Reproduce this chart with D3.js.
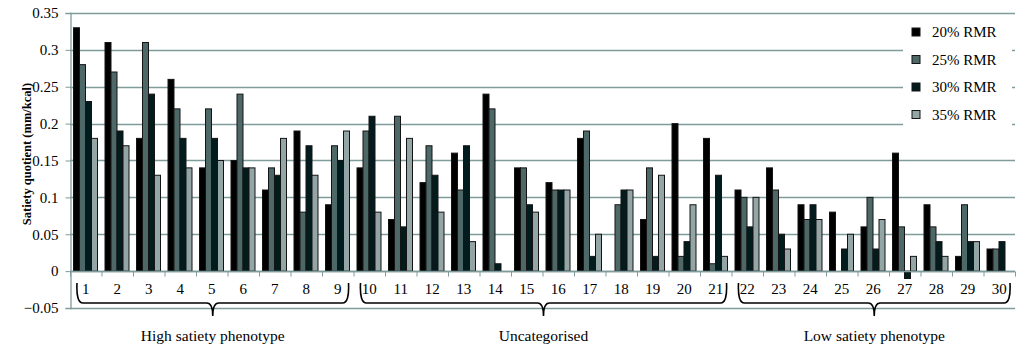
<!DOCTYPE html>
<html>
<head>
<meta charset="utf-8">
<script src="https://cdn.jsdelivr.net/npm/d3@7"></script>
<style>
  body { margin: 0; background: #fff; }
  svg text { font-family: "Times New Roman", "Liberation Serif", Times, serif; }
</style>
</head>
<body>
<svg width="1024" height="348"></svg>
<script>
// Subjects and series
var subjects = d3.range(1, 31).map(String);
var seriesNames = ["20% RMR", "25% RMR", "30% RMR", "35% RMR"];
var seriesColors = ["#000000", "#4e6868", "#021b1d", "#93a5a5"];

// Satiety quotient per subject (mm/kcal), one array per load
var rmr20 = [0.33, 0.31, 0.18, 0.26, 0.14, 0.15, 0.11, 0.19, 0.09, 0.14, 0.07, 0.12, 0.16, 0.24, 0.14,
             0.12, 0.18, 0, 0.07, 0.20, 0.18, 0.11, 0.14, 0.09, 0.08, 0.06, 0.16, 0.09, 0.02, 0.03];
var rmr25 = [0.28, 0.27, 0.31, 0.22, 0.22, 0.24, 0.14, 0.08, 0.17, 0.19, 0.21, 0.17, 0.11, 0.22, 0.14,
             0.11, 0.19, 0.09, 0.14, 0.02, 0.01, 0.10, 0.11, 0.07, 0, 0.10, 0.06, 0.06, 0.09, 0.03];
var rmr30 = [0.23, 0.19, 0.24, 0.18, 0.18, 0.14, 0.13, 0.17, 0.15, 0.21, 0.06, 0.13, 0.17, 0.01, 0.09,
             0.11, 0.02, 0.11, 0.02, 0.04, 0.13, 0.06, 0.05, 0.09, 0.03, 0.03, -0.01, 0.04, 0.04, 0.04];
var rmr35 = [0.18, 0.17, 0.13, 0.14, 0.15, 0.14, 0.18, 0.13, 0.19, 0.08, 0.18, 0.08, 0.04, 0, 0.08,
             0.11, 0.05, 0.11, 0.13, 0.09, 0.02, 0.10, 0.03, 0.07, 0.05, 0.07, 0.02, 0.02, 0.04, 0];

var yTicks = [-0.05, 0, 0.05, 0.1, 0.15, 0.2, 0.25, 0.3, 0.35];

// Phenotype groups (first and last subject)
var groups = [
  { label: "High satiety phenotype", from: "1", to: "9" },
  { label: "Uncategorised", from: "10", to: "21" },
  { label: "Low satiety phenotype", from: "22", to: "30" }
];

var allSeries = [rmr20, rmr25, rmr30, rmr35];
var gridColor = "#809b9b";
var serif = "'Times New Roman', 'Liberation Serif', serif";

var svg = d3.select("svg");

var x0 = d3.scaleBand().domain(subjects).range([70, 1015]);
var x1 = d3.scaleBand().domain(seriesNames).range([3.5, 27.5]);
var y = d3.scaleLinear().domain([-0.05, 0.35]).range([308, 13]);

// gridlines
svg.append("g")
  .selectAll("line")
  .data(yTicks)
  .enter()
  .append("line")
  .attr("x1", 70)
  .attr("x2", 1015)
  .attr("y1", (d) => Math.round(y(d)) + 0.5)
  .attr("y2", (d) => Math.round(y(d)) + 0.5)
  .attr("stroke", gridColor)
  .attr("stroke-width", 1.3);

// y axis
var yAxis = svg.append("g")
  .attr("transform", "translate(70.5,0)")
  .call(d3.axisLeft(y).tickValues(yTicks).tickSize(5).tickFormat((d) => d3.format("")(+d.toFixed(2))))
  .attr("font-family", serif)
  .attr("font-size", 15);
yAxis.select(".domain").attr("stroke", gridColor).attr("stroke-width", 1.3);
yAxis.selectAll(".tick line").attr("stroke", gridColor);
yAxis.selectAll(".tick text")
  .attr("x", -12)
  .attr("fill", "#000");

// bars
var barData = [];
subjects.forEach(function (s, i) {
  seriesNames.forEach(function (n, j) {
    barData.push({ subject: s, series: n, value: allSeries[j][i], color: seriesColors[j] });
  });
});

svg.append("g")
  .selectAll("rect")
  .data(barData.filter((d) => d.value !== 0))
  .enter()
  .append("rect")
  .attr("x", (d) => x0(d.subject) + x1(d.series))
  .attr("y", (d) => y(Math.max(0, d.value)))
  .attr("width", x1.bandwidth())
  .attr("height", (d) => Math.abs(y(d.value) - y(0)))
  .attr("fill", (d) => d.color)
  .attr("stroke", "#141414")
  .attr("stroke-width", 1);

// x axis (category ticks between subjects)
var xAxis = svg.append("g")
  .attr("transform", "translate(0," + (Math.round(y(0)) + 0.5) + ")");
xAxis.append("line")
  .attr("x1", 70).attr("x2", 1015)
  .attr("stroke", gridColor).attr("stroke-width", 1.3);
xAxis.selectAll(".xt")
  .data(subjects.concat(["end"]))
  .enter()
  .append("line")
  .attr("x1", (d, i) => (i < subjects.length ? x0(d) : x0.range()[1]) + 0.5)
  .attr("x2", (d, i) => (i < subjects.length ? x0(d) : x0.range()[1]) + 0.5)
  .attr("y1", 0).attr("y2", 5)
  .attr("stroke", gridColor);
xAxis.selectAll(".lbl")
  .data(subjects)
  .enter()
  .append("text")
  .attr("x", (d) => x0(d) + x0.bandwidth() / 2)
  .attr("y", 22)
  .attr("text-anchor", "middle")
  .attr("font-family", serif)
  .attr("font-size", 15)
  .text((d) => d);

// braces under the groups
groups.forEach(function (g) {
  var a = x0(g.from) + 7;
  var b = x0(g.to) + x0.bandwidth() - 5;
  var m = (a + b) / 2;
  var top = 283, mid = 303, tip = 316, r = 6;
  var p = d3.path();
  p.moveTo(a, top);
  p.quadraticCurveTo(a - 1, mid, a + r, mid);
  p.lineTo(m - r, mid);
  p.quadraticCurveTo(m, mid, m, tip);
  p.quadraticCurveTo(m, mid, m + r, mid);
  p.lineTo(b - r, mid);
  p.quadraticCurveTo(b + 1, mid, b, top);
  svg.append("path")
    .attr("d", p.toString())
    .attr("fill", "none")
    .attr("stroke", "#000")
    .attr("stroke-width", 1.6);
  svg.append("text")
    .attr("x", m)
    .attr("y", 341)
    .attr("text-anchor", "middle")
    .attr("font-family", serif)
    .attr("font-size", 15.5)
    .text(g.label);
});

// y axis title
svg.append("text")
  .attr("transform", "translate(31,154) rotate(-90)")
  .attr("text-anchor", "middle")
  .attr("font-family", serif)
  .attr("font-size", 12.5)
  .attr("font-weight", "bold")
  .text("Satiety quotient (mm/kcal)");

// legend
var legend = svg.append("g");
legend.append("rect")
  .attr("x", 903).attr("y", 17)
  .attr("width", 109).attr("height", 112)
  .attr("fill", "#fff");
var rows = legend.selectAll(".row")
  .data(seriesNames)
  .enter()
  .append("g")
  .attr("transform", (d, i) => "translate(912," + (32 + i * 27.5) + ")");
rows.append("rect")
  .attr("x", 0).attr("y", -4)
  .attr("width", 8).attr("height", 8)
  .attr("fill", (d, i) => seriesColors[i])
  .attr("stroke", "#141414");
rows.append("text")
  .attr("x", 20)
  .attr("y", 5)
  .attr("font-family", serif)
  .attr("font-size", 15)
  .text((d) => d);
</script>
</body>
</html>
